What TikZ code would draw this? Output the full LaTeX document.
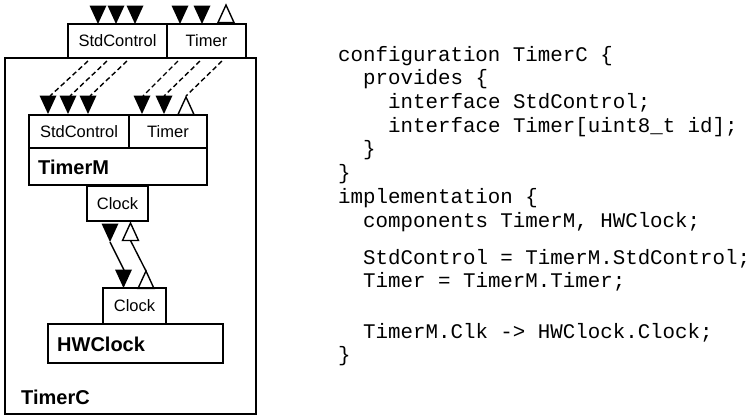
\documentclass[tikz,border=0pt]{standalone}
\usepackage{fontspec}
\setmainfont{Liberation Sans}
\newfontfamily\codefont{Liberation Mono}
\usepackage{tikz}
\usetikzlibrary{calc}

\begin{document}
\begin{tikzpicture}[x=1pt, y=-1pt,
  box/.style={draw, line width=1.4pt, inner sep=0pt},
  iface/.style={box, font=\fontsize{16.5}{16.5}\selectfont},
  comp/.style={anchor=west, inner sep=0pt, font=\bfseries\fontsize{20}{20}\selectfont},
  wire/.style={line width=1.4pt, dash pattern=on 5pt off 3pt},
  link/.style={line width=1.4pt},
  code/.style={anchor=base west, inner sep=0pt, font=\codefont\fontsize{20.8}{20.8}\selectfont}]
\useasboundingbox (0,0) rectangle (754,416);

% outer configuration
\node[box, minimum width=251pt, minimum height=356pt] (timerc) at (130.5,236) {};
\node[comp] (timerclbl) at (21,397) {TimerC};
\node[iface, minimum width=99pt, minimum height=34pt] (ctl) at (117.5,41) {StdControl};
\node[iface, minimum width=79pt, minimum height=34pt] (tmr) at (206.5,41) {Timer};

% TimerM
\node[iface, minimum width=100pt, minimum height=33pt] (mctl) at (79,131.5) {StdControl};
\node[iface, minimum width=78pt, minimum height=33pt] (mtmr) at (168,131.5) {Timer};
\node[box, minimum width=178pt, minimum height=37pt] (timerm) at (118,166.5) {};
\node[comp] (timermlbl) at (38,167) {TimerM};
\node[iface, minimum width=61pt, minimum height=35pt] (mclk) at (117.5,203.5) {Clock};

% HWClock
\node[iface, minimum width=63pt, minimum height=36pt] (hclk) at (134.5,306) {Clock};
\node[box, minimum width=175pt, minimum height=39pt] (hwclock) at (135.5,343.5) {};
\node[comp] (hwclocklbl) at (57,344) {HWClock};

% interface arrows
\foreach \x/\y in {98/24,116/24,135/24,180/24,202/24,48/114,68/114,88/114,142/114,164/114,110/242,123.5/288}
{
    \fill (\x,\y) -- ++(-8.5,-18.5) -- ++(17,0) -- cycle;
}
\foreach \x/\y in {226/5,186/97,130.5/223,146/271}
{
    \draw[link, line join=miter] (\x,\y) -- ++(-8,17.5) -- ++(16,0) -- cycle;
}

% wiring
\foreach \a/\b [count=\k] in {88/50,107/70,127/90,178/143,200/164,222/186}
{
    \coordinate (p\k) at (\a,61);
    \coordinate (q\k) at (\b,96);
    \draw[wire] (p\k) -- (q\k);
}
\coordinate (ck1) at (110,242);
\coordinate (ck2) at (124,270);
\coordinate (ck3) at (130.5,240.5);
\coordinate (ck4) at (146,271);
\draw[link] (ck1) -- (ck2);
\draw[link] (ck3) -- (ck4);

% source
\node[code] (l1) at (338,61) {configuration TimerC \{};
\node[code] (l2) at (363,84.5) {provides \{};
\node[code] (l3) at (388,108) {interface StdControl;};
\node[code] (l4) at (388,132) {interface Timer[uint8\_t id];};
\node[code] (l5) at (363,155.5) {\}};
\node[code] (l6) at (338,179) {\}};
\node[code] (l7) at (338,203) {implementation \{};
\node[code] (l8) at (363,227) {components TimerM, HWClock;};
\node[code] (l9) at (363,264) {StdControl = TimerM.StdControl;};
\node[code] (l10) at (363,287.5) {Timer = TimerM.Timer;};
\node[code] (l11) at (363,338) {TimerM.Clk -> HWClock.Clock;};
\node[code] (l12) at (338,361.5) {\}};
\end{tikzpicture}
\end{document}
